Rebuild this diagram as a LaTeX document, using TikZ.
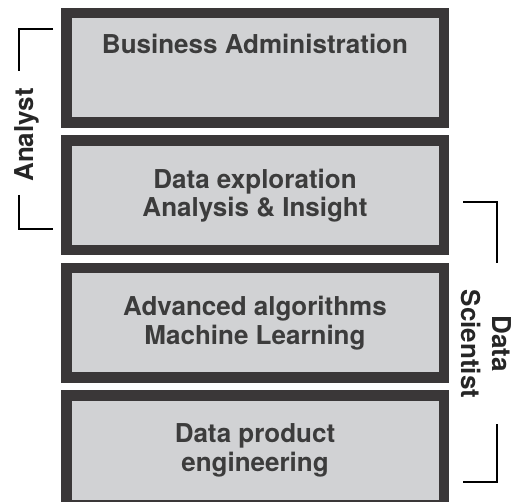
\documentclass[tikz,border=0pt]{standalone}
\usepackage{fontspec}
\setmainfont{TeX Gyre Heros}
\definecolor{frame}{HTML}{3A3738}
\definecolor{panel}{HTML}{D1D2D4}
\definecolor{ink}{HTML}{3C3C3C}
\tikzset{
  layer/.style={draw=frame, fill=panel, line width=10.5pt, minimum width=377.5pt,
    minimum height=109.5pt, inner sep=0pt, text=ink, align=center,
    font=\bfseries\fontsize{26}{28.5}\selectfont},
  layertext/.style={text=ink, inner sep=0pt, font=\bfseries\fontsize{26}{28.5}\selectfont},
  bracket/.style={draw=black, line width=2pt},
  role/.style={inner sep=0pt, align=center, text=black!85, font=\bfseries\fontsize{26}{31}\selectfont}
}
\begin{document}
\begin{tikzpicture}[x=1pt, y=-1pt]
	\clip (0,0) rectangle (514,502);
	% stacked layers
	\node[layer] (admin) at (255,68) {};
	\node[layertext, anchor=base] (admintext) at ([yshift=-46pt]admin.north) {Business Administration};
	\node[layer] (explore) at (255,195.5) {Data exploration\\Analysis \& Insight};
	\node[layer] (algo) at (255,323) {Advanced algorithms\\Machine Learning};
	\node[layer] (product) at (255,450.5) {Data product\\engineering};
	% analyst bracket
	\coordinate (a1) at (53,29);
	\coordinate (a2) at (19,29);
	\coordinate (a3) at (19,71);
	\coordinate (a4) at (19,195);
	\coordinate (a5) at (19,229);
	\coordinate (a6) at (53,229);
	\draw[bracket] (a1) -- (a2) -- (a3);
	\draw[bracket] (a4) -- (a5) -- (a6);
	\node[role, rotate=90, anchor=base] (analyst) at (33,135) {Analyst};
	% data scientist bracket
	\coordinate (s1) at (463,202);
	\coordinate (s2) at (497,202);
	\coordinate (s3) at (497,263);
	\coordinate (s4) at (497,424);
	\coordinate (s5) at (497,482);
	\coordinate (s6) at (463,482);
	\draw[bracket] (s1) -- (s2) -- (s3);
	\draw[bracket] (s4) -- (s5) -- (s6);
	\node[role, rotate=-90] (scientist) at (486.5,344) {Data\\Scientist};
\end{tikzpicture}
\end{document}
